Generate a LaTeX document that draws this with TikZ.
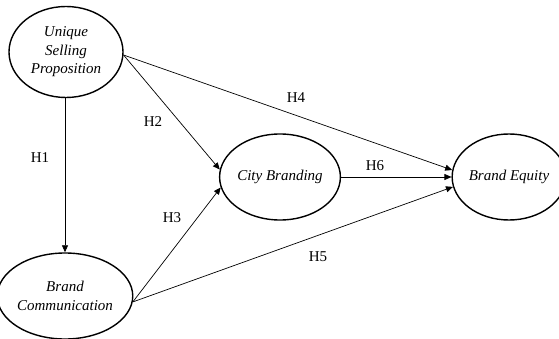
\documentclass[tikz,border=0pt]{standalone}
\usepackage{fontspec}
\setmainfont{Liberation Serif}
\usetikzlibrary{shapes.geometric,arrows.meta}
\begin{document}
\begin{tikzpicture}[x=1pt,y=-1pt,
  construct/.style={ellipse,draw,line width=1.4pt,inner sep=0pt,align=center,
    font=\fontsize{15}{18.5}\selectfont\itshape},
  link/.style={draw,line width=0.7pt,-{Triangle[length=7pt,width=6pt]}},
  hyp/.style={font=\fontsize{15}{17}\selectfont}]
\useasboundingbox (0,0) rectangle (559,339);
\node[construct,minimum width=114pt,minimum height=91pt] (usp) at (66,52) {Unique\\Selling\\Proposition};
\node[construct,minimum width=112pt,minimum height=86pt] (bc) at (65,296) {Brand\\Communication};
\node[construct,minimum width=111pt,minimum height=86pt] (cb) at (280,177) {City Branding};
\node[construct,minimum width=101pt,minimum height=86pt] (be) at (509,177) {Brand Equity};
\draw[link] (usp.south -| bc.north) -- (bc.north);
\draw[link] (usp.-3) -- (cb.173);
\draw[link] (usp.-3) -- (be.173);
\draw[link] (bc.-5) -- (cb.190);
\draw[link] (bc.-5) -- (be.190);
\draw[link] (cb.east) -- (be.west);
\node[hyp] (h1) at (40,158) {H1};
\node[hyp] (h2) at (153,122) {H2};
\node[hyp] (h3) at (172,218) {H3};
\node[hyp] (h4) at (296,98) {H4};
\node[hyp] (h5) at (318,257) {H5};
\node[hyp] (h6) at (375,166) {H6};
\end{tikzpicture}
\end{document}
